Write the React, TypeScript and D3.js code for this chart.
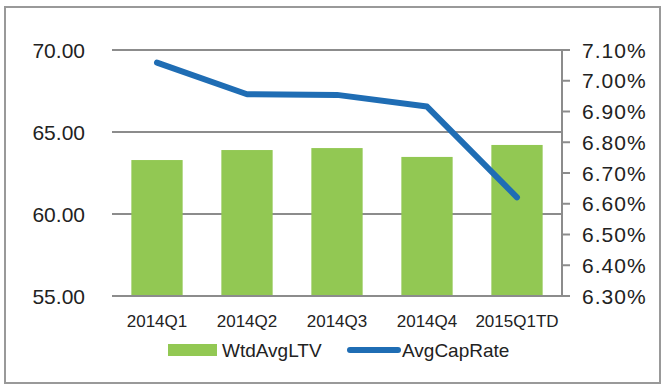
import React from 'react';
import * as d3 from 'd3';

const quarters = ['2014Q1', '2014Q2', '2014Q3', '2014Q4', '2015Q1TD'];
const wtdAvgLTV = [63.29, 63.9, 64.02, 63.48, 64.21];
const avgCapRate = [7.059, 6.956, 6.954, 6.916, 6.621];
const leftTicks = [55, 60, 65, 70];
const rightTicks = [6.3, 6.4, 6.5, 6.6, 6.7, 6.8, 6.9, 7.0, 7.1];

const W = 667;
const H = 390;
const margin = { top: 50, right: 105, bottom: 94, left: 112 };
const font = '"Liberation Sans", Arial, sans-serif';
const green = '#92c853';
const blue = '#1f6db4';
const grid = '#8c8c8c';
const textColor = '#222';

const App = () => {
  const x = d3.scaleBand<string>()
    .domain(quarters)
    .range([margin.left, W - margin.right])
    .paddingInner(0.43)
    .paddingOuter(0.215);

  const yL = d3.scaleLinear().domain([55, 70]).range([H - margin.bottom, margin.top]);
  const yR = d3.scaleLinear().domain([6.3, 7.1]).range([H - margin.bottom, margin.top]);

  const line = d3.line<number>()
    .x((_, i) => (x(quarters[i]) as number) + x.bandwidth() / 2)
    .y(d => yR(d));

  const plotRight = W - margin.right;

  return (
    <svg width={W} height={H} style={{ position: 'absolute', left: 0, top: 0, background: '#fff' }} fontFamily={font}>
      <rect x={5} y={7} width={655} height={376} fill="none" stroke="#999" strokeWidth={2} />

      {/* gridlines + left axis labels */}
      {leftTicks.map(t => (
        <g key={t}>
          <line x1={margin.left} x2={plotRight} y1={yL(t)} y2={yL(t)} stroke={grid} strokeWidth={2} />
          <text x={85} y={yL(t)} dy="0.36em" textAnchor="end" fontSize={21} fill={textColor}>
            {t.toFixed(2)}
          </text>
        </g>
      ))}

      {/* bars */}
      {wtdAvgLTV.map((v, i) => (
        <rect key={quarters[i]} x={x(quarters[i])} y={yL(v)} width={x.bandwidth()}
          height={yL(55) - yL(v)} fill={green} />
      ))}
      <line x1={margin.left} x2={plotRight} y1={yL(55)} y2={yL(55)} stroke={grid} strokeWidth={2} />

      {/* right axis */}
      <line x1={plotRight} x2={plotRight} y1={yR(7.1)} y2={yR(6.3)} stroke={grid} strokeWidth={2} />
      {rightTicks.map(t => (
        <g key={t}>
          <line x1={plotRight} x2={plotRight + 8} y1={yR(t)} y2={yR(t)} stroke={grid} strokeWidth={2} />
          <text x={582} y={yR(t)} dy="0.36em" fontSize={21} letterSpacing={1} fill={textColor}>
            {t.toFixed(2)}%
          </text>
        </g>
      ))}

      {/* cap rate line */}
      <path d={line(avgCapRate) || ''} fill="none" stroke={blue} strokeWidth={6}
        strokeLinejoin="round" strokeLinecap="round" />

      {/* x labels */}
      {quarters.map(q => (
        <text key={q} x={(x(q) as number) + x.bandwidth() / 2} y={327} textAnchor="middle"
          fontSize={17} fill={textColor}>
          {q}
        </text>
      ))}

      {/* legend */}
      <rect x={168} y={344} width={49} height={12} fill={green} />
      <text x={222} y={350} dy="0.36em" fontSize={19} fill={textColor}>WtdAvgLTV</text>
      <line x1={350} x2={398} y1={350} y2={350} stroke={blue} strokeWidth={6} strokeLinecap="round" />
      <text x={402} y={350} dy="0.36em" fontSize={19} fill={textColor}>AvgCapRate</text>
    </svg>
  );
};

export default App;
